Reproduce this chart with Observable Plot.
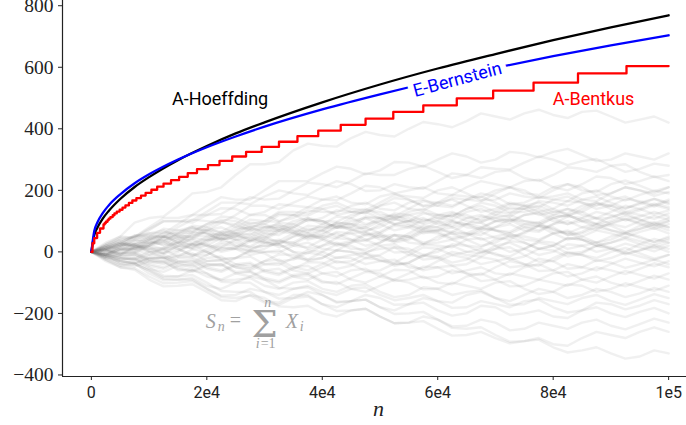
<!DOCTYPE html>
<html><head><meta charset="utf-8">
<script src="https://cdn.jsdelivr.net/npm/d3@7"></script>
<script src="https://cdn.jsdelivr.net/npm/@observablehq/plot@0.6"></script>
<style>
body{margin:0;background:#fff}
#chart svg [aria-label="y-axis tick label"] text{font-family:"Liberation Serif","DejaVu Serif",serif !important;font-size:19.5px !important;fill:#222}
#chart svg [aria-label="x-axis tick label"] text{font-family:Roboto,sans-serif !important;font-size:16px !important;fill:#222}
</style>
</head><body><div id="chart"></div>
<script>
// ---- bounds ----
const boundN    = [0, 500, 1000, 2000, 3000, 5000, 7500, 10000, 15000, 20000, 25000, 30000, 40000, 50000, 60000, 70000, 80000, 90000, 100000];
const hoeffding = [0, 54, 77, 109, 133, 172, 211, 243, 298, 344, 385, 421, 486, 544, 596, 643, 688, 730, 769];
const bernstein = [0, 68, 94, 127, 151, 187, 223, 252, 300, 340, 375, 407, 463, 512, 557, 598, 636, 671, 704];
const bentkusN  = [0, 200, 500, 1000, 1500, 2100, 2300, 2500, 2800, 3000, 3300, 3700, 4000, 4400, 4900, 5400, 5900, 6500, 7100, 7800, 8600, 9400, 10400, 11400, 12500, 13800, 15200, 16700, 18300, 20200, 22200, 24400, 26800, 29500, 32500, 35700, 39300, 43200, 47500, 52300, 57500, 63300, 69600, 76600, 84300, 92700, 100000];
const bentkus   = [0, 28, 45, 62, 76, 89, 93, 98, 103, 108, 113, 119, 125, 131, 137, 144, 151, 159, 167, 175, 183, 192, 202, 212, 222, 233, 244, 256, 269, 282, 296, 310, 325, 341, 358, 376, 394, 413, 433, 455, 476, 499, 524, 550, 580, 604, 604];

// ---- sample paths S_n (read approximately) ----
const walkN = [0, 2500, 5000, 7500, 10000, 12500, 15000, 17500, 20000, 22500, 25000, 27500, 30000, 32500, 35000, 37500, 40000, 42500, 45000, 47500, 50000, 52500, 55000, 57500, 60000, 62500, 65000, 67500, 70000, 72500, 75000, 77500, 80000, 82500, 85000, 87500, 90000, 92500, 95000, 97500, 100000];
const walks = [
 [0,25,50,95,110,115,150,190,195,210,250,285,285,292,330,352,345,342,370,390,380,375,400,422,415,405,425,450,440,430,450,462,445,435,455,459,440,420,430,440,420],
 [0,15,40,48,80,110,110,120,150,178,170,170,200,230,230,230,255,277,270,252,265,292,290,277,300,320,310,290,300,325,320,307,325,335,315,295,300,320,310,300,320],
 [0,-10,20,52,60,60,90,120,120,123,150,178,170,173,200,225,220,210,230,255,250,250,270,280,260,240,250,275,270,268,290,310,300,282,295,302,280,260,270,287,280],
 [0,30,50,45,70,100,100,103,130,160,160,155,180,200,190,185,210,230,220,198,200,220,210,205,230,255,250,240,260,265,240,230,250,275,270,260,280,285,260,243,250],
 [0,10,30,52,50,50,80,105,100,95,120,150,150,140,160,180,170,168,190,215,210,190,200,210,190,185,210,230,220,210,230,235,210,200,220,245,240,220,230,245,230],
 [0,20,10,15,40,65,60,63,90,100,80,75,100,130,130,125,150,160,140,135,160,185,180,175,200,210,190,168,170,190,180,175,200,220,210,185,190,210,200,190,210],
 [0,-15,5,27,30,33,60,80,70,65,90,120,120,100,110,135,130,128,150,160,140,135,160,170,150,145,170,190,180,155,160,180,170,165,190,200,180,167,185,199,190],
 [0,25,40,38,60,70,50,50,80,105,100,80,90,120,120,100,110,135,130,128,150,160,140,135,160,170,150,130,140,160,150,145,170,180,160,140,150,172,165,152,170],
 [0,5,20,25,10,13,40,65,60,40,50,75,70,68,90,110,100,78,80,110,110,105,130,140,120,115,140,150,130,125,150,160,140,120,130,155,150,140,160,172,155],
 [0,-20,-10,17,20,10,30,55,50,45,70,80,60,55,80,105,100,98,120,130,110,90,100,125,120,115,140,160,150,128,130,140,120,115,140,160,150,130,140,157,145],
 [0,15,30,13,20,50,50,30,40,65,60,55,80,90,70,65,90,115,110,90,100,125,120,100,110,120,100,95,120,145,140,120,130,140,120,110,130,150,140,122,135],
 [0,10,-5,-5,20,45,40,20,30,55,50,45,70,95,90,70,80,90,70,65,90,115,110,90,100,125,120,100,110,120,100,95,120,140,130,108,110,130,120,107,125],
 [0,-5,15,39,40,20,30,60,60,40,50,60,40,35,60,85,80,78,100,110,90,70,80,105,100,80,90,115,110,100,120,125,100,90,110,130,120,102,115,130,115],
 [0,20,35,18,25,50,45,42,70,95,90,70,80,82,60,50,70,95,90,85,110,120,100,78,80,100,90,80,100,105,80,70,90,115,110,90,100,117,105,87,100],
 [0,-10,10,8,30,40,20,15,40,45,20,18,40,65,60,40,50,60,40,35,60,85,80,60,70,95,90,70,80,90,70,65,90,100,80,72,95,107,90,75,90],
 [0,5,-10,12,10,5,30,40,20,15,40,50,30,25,50,75,70,50,60,65,40,35,60,85,80,58,60,80,70,65,90,95,70,60,80,90,70,62,85,97,80],
 [0,10,25,25,5,-3,20,45,40,38,60,70,50,30,30,55,50,45,70,80,60,40,50,75,70,65,90,95,70,50,60,85,80,55,60,80,70,57,75,87,70],
 [0,-15,-5,0,-20,-22,0,25,20,0,10,35,30,28,50,60,40,20,30,55,50,30,40,65,60,40,50,75,70,60,80,85,60,40,50,70,60,47,65,77,60],
 [0,15,5,0,20,30,10,-12,-10,12,10,5,30,40,20,15,40,65,60,40,50,55,30,25,50,60,40,20,30,55,50,40,60,65,40,30,50,62,45,32,50],
 [0,-5,-20,-22,0,8,-15,-14,10,32,30,10,20,25,0,-5,20,30,10,8,30,55,50,25,30,40,20,15,40,50,30,10,20,45,40,20,30,47,35,22,40],
 [0,10,20,22,0,-5,20,25,0,-22,-20,5,0,-2,20,30,10,5,30,40,20,-2,0,25,20,15,40,45,20,0,10,35,30,10,20,30,10,2,25,42,30],
 [0,-10,5,10,-10,-8,-30,-35,-10,15,10,-10,0,5,-20,-25,0,25,20,0,10,15,-10,-15,10,20,0,-5,20,30,10,-10,0,25,20,0,10,27,15,2,20],
 [0,5,-10,-8,-30,-40,-20,-18,-40,-45,-20,-15,-40,-42,-20,5,0,-20,-10,-5,-30,-35,-10,15,10,-10,0,10,-10,-15,10,30,20,-5,0,20,10,-8,5,17,0],
 [0,-20,-30,-37,-20,-15,-40,-50,-30,-25,-50,-55,-30,-25,-50,-60,-40,-18,-20,-40,-30,-25,-50,-55,-30,-10,-20,-40,-30,-20,-40,-45,-20,0,-10,-30,-20,-2,-15,-27,-10],
 [0,10,-5,-3,-25,-32,-10,-5,-30,-28,-50,-60,-40,-35,-60,-70,-50,-30,-40,-62,-60,-38,-40,-60,-50,-45,-70,-75,-50,-30,-40,-62,-60,-40,-50,-60,-40,-22,-35,-47,-30],
 [0,-5,-25,-20,-40,-50,-30,-25,-50,-60,-40,-35,-60,-70,-50,-45,-70,-80,-60,-55,-80,-90,-70,-48,-50,-70,-60,-50,-70,-75,-50,-40,-60,-80,-70,-50,-60,-72,-55,-37,-50],
 [0,-15,-30,-37,-20,-20,-50,-60,-40,-40,-70,-80,-60,-55,-80,-90,-70,-65,-90,-100,-80,-58,-60,-85,-80,-60,-70,-95,-90,-70,-80,-90,-70,-65,-90,-100,-80,-62,-75,-87,-70],
 [0,5,-15,-13,-35,-33,-55,-65,-45,-40,-65,-63,-85,-95,-75,-70,-95,-105,-85,-65,-70,-95,-90,-80,-100,-105,-80,-70,-90,-112,-110,-90,-100,-110,-90,-80,-100,-112,-95,-77,-90],
 [0,-20,-40,-47,-30,-30,-60,-58,-80,-90,-70,-65,-90,-100,-80,-75,-100,-98,-120,-130,-110,-90,-100,-122,-120,-100,-110,-120,-100,-95,-120,-137,-130,-105,-110,-130,-120,-102,-115,-127,-110],
 [0,-10,-35,-33,-55,-65,-45,-42,-70,-92,-90,-85,-110,-120,-100,-95,-120,-130,-110,-105,-130,-147,-140,-115,-120,-140,-130,-125,-150,-160,-140,-120,-130,-150,-140,-120,-130,-147,-135,-117,-130],
 [0,-25,-45,-40,-60,-82,-80,-60,-70,-97,-100,-80,-90,-117,-120,-110,-130,-140,-120,-115,-140,-157,-150,-140,-160,-165,-140,-130,-150,-172,-170,-150,-160,-170,-150,-140,-160,-172,-155,-137,-150],
 [0,-10,-30,-38,-70,-92,-90,-85,-110,-120,-100,-100,-130,-140,-120,-115,-140,-162,-160,-140,-150,-172,-170,-150,-160,-182,-180,-160,-170,-180,-160,-155,-180,-197,-190,-165,-170,-187,-175,-157,-170],
 [0,-30,-50,-53,-80,-102,-100,-95,-120,-142,-140,-120,-130,-152,-150,-145,-170,-180,-160,-155,-180,-190,-170,-165,-190,-207,-200,-175,-180,-205,-200,-190,-210,-215,-190,-180,-200,-212,-195,-182,-200],
 [0,-15,-40,-38,-60,-87,-90,-90,-120,-147,-150,-142,-165,-172,-150,-130,-140,-165,-160,-155,-180,-202,-200,-195,-220,-242,-240,-220,-230,-255,-250,-230,-240,-250,-230,-220,-240,-252,-235,-217,-230],
 [0,-25,-50,-58,-90,-112,-110,-105,-130,-157,-160,-140,-150,-177,-180,-175,-200,-210,-190,-185,-210,-232,-230,-225,-250,-272,-270,-260,-280,-297,-290,-280,-300,-305,-280,-260,-270,-280,-260,-245,-260],
 [0,-10,-20,-23,-50,-77,-80,-75,-100,-127,-130,-130,-160,-165,-140,-140,-170,-192,-190,-185,-210,-232,-230,-210,-220,-247,-250,-245,-270,-292,-290,-285,-310,-327,-320,-310,-330,-347,-340,-320,-330],
 [0,20,45,48,75,99,100,95,120,142,140,120,130,155,150,145,170,180,160,155,180,190,170,148,150,175,170,165,190,210,200,175,180,190,170,165,190,210,200,182,195],
 [0,15,30,54,55,47,70,80,60,55,80,105,100,98,120,145,140,120,130,140,120,115,140,165,160,150,170,180,160,138,140,165,160,150,170,180,160,142,155,172,160],
 [0,-10,10,10,35,60,55,47,70,80,60,40,50,75,70,50,60,85,80,78,100,110,90,68,70,80,60,55,80,105,100,90,110,120,100,80,90,107,95,82,100],
 [0,5,25,23,45,52,30,10,20,45,40,15,20,25,0,-25,-20,5,0,-5,20,25,0,-25,-20,0,-10,-15,10,15,-10,-32,-30,-5,-10,-20,0,13,-5,-22,-10],
 [0,10,20,37,30,25,50,75,70,50,60,85,80,75,100,110,90,85,110,135,130,110,120,130,110,105,130,140,120,115,140,150,130,125,150,160,140,122,135,152,140],
 [0,-5,10,5,25,35,15,13,35,57,55,35,45,70,65,45,55,80,75,55,65,90,85,75,95,102,80,75,100,110,90,85,110,120,100,92,115,125,105,92,110],
 [0,5,-5,17,15,-5,5,27,25,5,15,40,35,15,25,50,45,25,35,60,55,35,45,70,65,45,55,65,45,40,65,85,75,55,65,90,85,65,75,92,80],
 [0,-10,-20,-27,-10,12,10,-10,0,25,20,0,10,35,30,10,20,45,40,20,30,55,50,30,40,65,60,40,50,60,40,35,60,70,50,30,40,60,50,32,45],
 [0,15,25,20,40,50,30,25,50,60,40,35,60,85,80,60,70,95,90,70,80,105,100,95,120,130,110,105,130,155,150,130,140,165,160,150,170,180,160,147,165],
 [0,-5,-15,-8,-25,-18,-35,-42,-20,-15,-40,-50,-30,-8,-10,-30,-20,5,0,-20,-10,15,10,-10,0,25,20,0,10,35,30,10,20,45,40,20,30,42,25,12,30],
 [0,20,30,28,50,75,70,68,90,115,110,90,100,125,120,118,140,150,130,125,150,175,170,150,160,185,180,178,200,210,190,185,210,220,200,195,220,232,215,197,210],
 [0,-15,-25,-23,-45,-55,-35,-30,-55,-65,-45,-40,-65,-75,-55,-33,-35,-55,-45,-20,-25,-45,-35,-10,-15,-35,-25,0,-5,-25,-15,10,5,-15,-5,20,15,-5,5,22,10],
 [0,5,15,19,0,-19,-15,8,0,-25,-20,3,-5,-30,-25,-2,-10,-35,-30,-7,-15,-40,-35,-12,-20,-45,-40,-17,-25,-50,-45,-22,-30,-55,-50,-27,-35,-52,-40,-25,-40],
 [0,10,25,47,45,37,60,85,80,60,70,95,90,70,80,105,100,80,90,115,110,90,100,110,90,85,110,120,100,95,120,130,110,90,100,110,90,80,100,117,105]
];

// ---- axes ----
const xTicks = [0, 20000, 40000, 60000, 80000, 100000];
const xTickLabels = ["0", "2e4", "4e4", "6e4", "8e4", "1e5"];
const yTicks = [-400, -200, 0, 200, 400, 600, 800];
const yTickLabels = ["\u2212400", "\u2212200", "0", "200", "400", "600", "800"];
const xDomain = [-5000, 105000];
const yDomain = [-405, 817];

// ---- labels ----
const labelTexts = ["A-Hoeffding", "E-Bernstein", "A-Bentkus"];
const labelColors = ["#000000", "#0000ff", "#ff0000"];

const walkData = walks.flatMap((w, i) => w.map((v, j) => ({n: walkN[j], v, id: i})));
const hoefData = boundN.map((n, i) => ({n, v: hoeffding[i]}));
const bernData = boundN.map((n, i) => ({n, v: bernstein[i]}));
const bentData = bentkusN.map((n, i) => ({n, v: bentkus[i]}));

const gray = "#a0a0a0";
const serif = "Liberation Serif, DejaVu Serif, serif";
const fx = 19800, fy = -248; // formula anchor in data units

const chart = Plot.plot({
  width: 686, height: 425,
  marginLeft: 62, marginRight: 0, marginTop: 0, marginBottom: 49,
  x: {domain: xDomain, range: [62, 697]},
  y: {domain: yDomain},
  style: {background: "#fff", fontFamily: "Roboto"},
  marks: [
    Plot.line(walkData, {x: "n", y: "v", z: "id", stroke: "#7a7a7a", strokeOpacity: 0.11, strokeWidth: 2.4, strokeLinejoin: "round"}),
    Plot.line(hoefData, {x: "n", y: "v", stroke: labelColors[0], strokeWidth: 2.3, curve: "monotone-x"}),
    Plot.line(bernData, {x: "n", y: "v", stroke: labelColors[1], strokeWidth: 2.3, curve: "monotone-x"}),
    Plot.line(bentData, {x: "n", y: "v", stroke: labelColors[2], strokeWidth: 2.3, curve: "step-after"}),
    Plot.text([labelTexts[0]], {x: 22300, y: 495, text: d => d, fill: labelColors[0], fontSize: 18, fontFamily: "Roboto"}),
    Plot.text([labelTexts[1]], {x: 63400, y: 560, text: d => d, fill: labelColors[1], fontSize: 18, fontFamily: "Roboto", rotate: -15, stroke: "white", strokeWidth: 12, paintOrder: "stroke"}),
    Plot.text([labelTexts[2]], {x: 87000, y: 495, text: d => d, fill: labelColors[2], fontSize: 18, fontFamily: "Roboto"}),
    // formula S_n = sum_{i=1}^n X_i
    Plot.text(["S"], {x: fx, y: fy, text: d => d, textAnchor: "start", lineAnchor: "bottom", fill: gray, fontSize: 20, fontStyle: "italic", fontFamily: serif}),
    Plot.text(["n"], {x: fx, y: fy, text: d => d, textAnchor: "start", lineAnchor: "bottom", dx: 12, dy: 3, fill: gray, fontSize: 14, fontStyle: "italic", fontFamily: serif}),
    Plot.text(["="], {x: fx, y: fy, text: d => d, textAnchor: "start", lineAnchor: "bottom", dx: 24, dy: -1, fill: gray, fontSize: 20, fontFamily: serif}),
    Plot.text(["\u03A3"], {x: fx, y: fy, text: d => d, textAnchor: "middle", lineAnchor: "bottom", dx: 59, dy: 9, fill: gray, fontSize: 37, fontFamily: "DejaVu Serif"}),
    Plot.text(["n"], {x: fx, y: fy, text: d => d, textAnchor: "middle", lineAnchor: "bottom", dx: 62, dy: -21, fill: gray, fontSize: 14, fontStyle: "italic", fontFamily: serif}),
    Plot.text(["i"], {x: fx, y: fy, text: d => d, textAnchor: "start", lineAnchor: "bottom", dx: 50, dy: 20, fill: gray, fontSize: 14, fontStyle: "italic", fontFamily: serif}),
    Plot.text(["=1"], {x: fx, y: fy, text: d => d, textAnchor: "start", lineAnchor: "bottom", dx: 55, dy: 20, fill: gray, fontSize: 14, fontFamily: serif}),
    Plot.text(["X"], {x: fx, y: fy, text: d => d, textAnchor: "start", lineAnchor: "bottom", dx: 80, dy: 0, fill: gray, fontSize: 20, fontStyle: "italic", fontFamily: serif}),
    Plot.text(["i"], {x: fx, y: fy, text: d => d, textAnchor: "start", lineAnchor: "bottom", dx: 94, dy: 3, fill: gray, fontSize: 14, fontStyle: "italic", fontFamily: serif}),
    // spines
    Plot.ruleX([xDomain[0]], {stroke: "#222", strokeWidth: 1.2}),
    Plot.ruleY([yDomain[0]], {stroke: "#222", strokeWidth: 1.2}),
    Plot.axisY({ticks: yTicks, tickSize: 4, tickPadding: 5, tickFormat: d => yTickLabels[yTicks.indexOf(d)], label: null, stroke: "#222", fontFamily: serif, fontSize: 19.5}),
    Plot.axisX({ticks: xTicks, tickSize: 4, tickPadding: 6, tickFormat: d => xTickLabels[xTicks.indexOf(d)], label: null, stroke: "#222", fontFamily: "Roboto", fontSize: 16}),
    Plot.text(["n"], {frameAnchor: "bottom", text: d => d, lineAnchor: "bottom", dx: 4, dy: 39, fontSize: 22, fontStyle: "italic", fontFamily: serif, fill: "#222"})
  ]
});
document.getElementById("chart").appendChild(chart);
</script>
</body></html>
